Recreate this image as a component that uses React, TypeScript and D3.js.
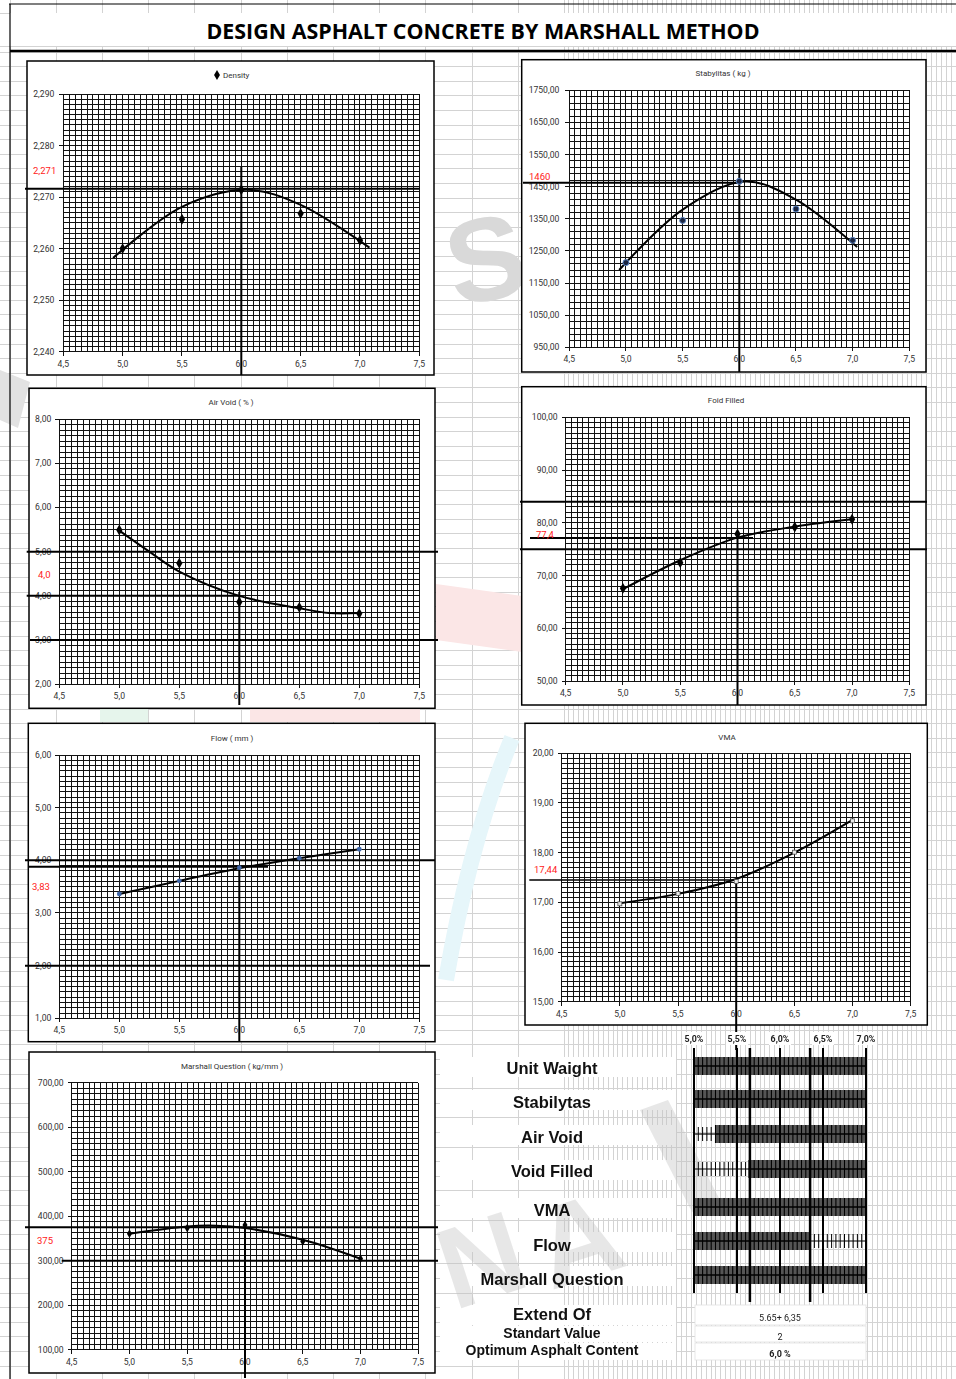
import React from "react";
import * as d3 from "d3";

// ---------------- data ----------------
const asphaltContent = [5.0, 5.5, 6.0, 6.5, 7.0];
const xTickValues = [4.5, 5.0, 5.5, 6.0, 6.5, 7.0, 7.5];
const optimumContent = 6.0;

const densityValues = [2.26, 2.2657, 2.2714, 2.2668, 2.2616];
const densityTrendX = [4.92, 5.5, 6.05, 6.5, 7.08];
const densityTrendY = [2.2582, 2.2681, 2.2714, 2.2685, 2.2602];
const densityTicks = [2.24, 2.25, 2.26, 2.27, 2.28, 2.29];
const densityRefs = [2.2716];

const stabilityValues = [1213.6, 1345.0, 1466.7, 1380.6, 1283.0];
const stabilityTrendX = [4.94, 5.5, 6.05, 6.5, 7.04];
const stabilityTrendY = [1190.7, 1378.5, 1466.0, 1409.7, 1262.3];
const stabilityTicks = [950, 1050, 1150, 1250, 1350, 1450, 1550, 1650, 1750];
const stabilityRefs = [1462];

const airVoidValues = [5.49, 4.74, 3.86, 3.74, 3.6];
const airVoidTrendX = [5.0, 5.25, 5.5, 6.0, 6.5, 6.75, 7.0];
const airVoidTrendY = [5.475, 5.0, 4.55, 4.0, 3.72, 3.61, 3.61];
const airVoidTicks = [2, 3, 4, 5, 6, 7, 8];
const airVoidRefs = [5.0, 4.0, 3.0];

const voidFilledValues = [67.57, 72.44, 77.88, 79.2, 80.66];
const voidFilledTrendX = [5.0, 5.5, 6.0, 6.5, 7.0];
const voidFilledTrendY = [67.4, 72.9, 77.18, 79.27, 80.66];
const voidFilledTicks = [50, 60, 70, 80, 90, 100];
const voidFilledRefs = [84.0, 77.1, 75.0];

const flowValues = [3.36, 3.61, 3.86, 4.04, 4.21];
const flowTrendX = [5.0, 5.5, 6.0, 6.5, 7.0];
const flowTrendY = [3.36, 3.61, 3.85, 4.04, 4.21];
const flowTicks = [1, 2, 3, 4, 5, 6];
const flowRefs = [4.0, 3.88, 2.0];

const vmaValues = [16.97, 17.18, 17.42, 18.01, 18.64];
const vmaTrendX = [5.0, 5.5, 6.0, 6.5, 7.0];
const vmaTrendY = [16.98, 17.17, 17.47, 18.0, 18.66];
const vmaTicks = [15, 16, 17, 18, 19, 20];
const vmaRefs = [17.45];

const marshallValues = [360.7, 373.4, 380.1, 343.4, 304.5];
const marshallTrendX = [5.0, 5.5, 5.75, 6.0, 6.5, 7.0];
const marshallTrendY = [360.7, 377.0, 378.6, 373.4, 347.2, 304.5];
const marshallTicks = [100, 200, 300, 400, 500, 600, 700];
const marshallRefs = [375, 300];

const specNames = ["Unit Waight", "Stabilytas", "Air Void", "Void Filled", "VMA", "Flow", "Marshall Question"];
const specFrom = [5.0, 5.0, 5.25, 5.63, 5.0, 5.0, 5.0];
const specTo = [7.0, 7.0, 7.0, 7.0, 7.0, 6.36, 7.0];
const tableTicks = [5.0, 5.5, 6.0, 6.5, 7.0];
const extentBounds = [5.65, 6.35];
const summaryLabels = ["Extend Of", "Standart Value", "Optimum Asphalt Content"];
const summaryValues = ["5.65+ 6,35", "2", "6,0 %"];

// ---------------- helpers ----------------
const comma = (v: number, d: number) => v.toFixed(d).replace(".", ",");
const chartFont = "Roboto, 'Liberation Sans', sans-serif";
const boldFont = "'Liberation Sans', Arial, sans-serif";

type Marker = "diamond" | "blueRing" | "blueDot" | "pale" | "smallDiamond";

interface PanelDef {
  title: string;
  titleX: number;
  titleY: number;
  legend?: boolean;
  frame: [number, number, number, number];
  plot: [number, number, number, number];
  yDomain: [number, number];
  yTicks: number[];
  yMinorStep: number;
  yDigits: number;
  values: number[];
  trendX: number[];
  trendY: number[];
  marker: Marker;
  refs: number[];
  refSpans: [number, number, number][];
  vTop: number;
  vBottom: number;
  refLabel: string;
  refLabelX: number;
  refLabelY: number;
  yLabelGap: number;
}

const panels: PanelDef[] = [
  {
    title: "Density", titleX: 223, titleY: 78, legend: true,
    frame: [27, 61, 407, 314], plot: [63.3, 94, 419.3, 351.7],
    yDomain: [2.24, 2.29], yTicks: densityTicks, yMinorStep: 0.001, yDigits: 3,
    values: densityValues, trendX: densityTrendX, trendY: densityTrendY, marker: "diamond",
    refs: densityRefs, refSpans: [[25, 419.3, 2]],
    vTop: 167, vBottom: 375, refLabel: "2,271", refLabelX: 33, refLabelY: 174, yLabelGap: 9,
  },
  {
    title: "Stabylitas ( kg )", titleX: 723, titleY: 76,
    frame: [521.7, 59.7, 404.3, 312.3], plot: [569.3, 90.3, 909.3, 347.3],
    yDomain: [950, 1750], yTicks: stabilityTicks, yMinorStep: 20, yDigits: 2,
    values: stabilityValues, trendX: stabilityTrendX, trendY: stabilityTrendY, marker: "blueRing",
    refs: stabilityRefs, refSpans: [[523, 741, 2]],
    vTop: 169, vBottom: 372, refLabel: "1460", refLabelX: 529, refLabelY: 180, yLabelGap: 10,
  },
  {
    title: "Air Void ( % )", titleX: 231, titleY: 405,
    frame: [29, 388.3, 406, 320], plot: [59.3, 419, 419.3, 684.3],
    yDomain: [2, 8], yTicks: airVoidTicks, yMinorStep: 0.125, yDigits: 2,
    values: airVoidValues, trendX: airVoidTrendX, trendY: airVoidTrendY, marker: "diamond",
    refs: airVoidRefs, refSpans: [[26.7, 438, 2], [26.7, 240, 2], [30, 438, 2]],
    vTop: 592, vBottom: 705, refLabel: "4,0", refLabelX: 38, refLabelY: 578, yLabelGap: 8,
  },
  {
    title: "Foid Filled", titleX: 726, titleY: 403,
    frame: [521.7, 386.7, 404.3, 318.3], plot: [565.7, 417.3, 909.3, 681],
    yDomain: [50, 100], yTicks: voidFilledTicks, yMinorStep: 1, yDigits: 2,
    values: voidFilledValues, trendX: voidFilledTrendX, trendY: voidFilledTrendY, marker: "diamond",
    refs: voidFilledRefs, refSpans: [[520, 927, 2], [530, 753, 2], [520, 927, 2]],
    vTop: 531.7, vBottom: 705, refLabel: "77,4", refLabelX: 536, refLabelY: 538, yLabelGap: 8,
  },
  {
    title: "Flow ( mm )", titleX: 232, titleY: 741,
    frame: [28.3, 723.3, 406.7, 318.4], plot: [59.3, 755, 419.3, 1018.3],
    yDomain: [1, 6], yTicks: flowTicks, yMinorStep: 0.1, yDigits: 2,
    values: flowValues, trendX: flowTrendX, trendY: flowTrendY, marker: "blueDot",
    refs: flowRefs, refSpans: [[25, 435, 2], [28, 268, 2], [25, 430, 2]],
    vTop: 866.7, vBottom: 1041.7, refLabel: "3,83", refLabelX: 32, refLabelY: 890, yLabelGap: 8,
  },
  {
    title: "VMA", titleX: 727, titleY: 740,
    frame: [525, 723.3, 402.3, 301.7], plot: [561.7, 753.3, 910.7, 1001.7],
    yDomain: [15, 20], yTicks: vmaTicks, yMinorStep: 0.1, yDigits: 2,
    values: vmaValues, trendX: vmaTrendX, trendY: vmaTrendY, marker: "pale",
    refs: vmaRefs, refSpans: [[529.3, 737, 1.5]],
    vTop: 880, vBottom: 1050, refLabel: "17,44", refLabelX: 534, refLabelY: 873, yLabelGap: 8,
  },
  {
    title: "Marshall Question ( kg/mm )", titleX: 232, titleY: 1069,
    frame: [29, 1052, 406, 321], plot: [71.7, 1082.7, 418.3, 1349.7],
    yDomain: [100, 700], yTicks: marshallTicks, yMinorStep: 12.5, yDigits: 2,
    values: marshallValues, trendX: marshallTrendX, trendY: marshallTrendY, marker: "smallDiamond",
    refs: marshallRefs, refSpans: [[25, 438, 2], [61.7, 438, 2]],
    vTop: 1221, vBottom: 1378, refLabel: "375", refLabelX: 37, refLabelY: 1244, yLabelGap: 8,
  },
];

function MarkerShape({ kind, cx, cy }: { kind: Marker; cx: number; cy: number }) {
  if (kind === "diamond") {
    const p = d3.symbol(d3.symbolDiamond, 34)() as string;
    return <path d={p} transform={`translate(${cx},${cy})`} fill="#000" />;
  }
  if (kind === "smallDiamond") {
    const p = d3.symbol(d3.symbolDiamond, 22)() as string;
    return <path d={p} transform={`translate(${cx},${cy})`} fill="#000" />;
  }
  if (kind === "blueRing")
    return <circle cx={cx} cy={cy} r={3} fill="#1a2440" stroke="#5b86c5" strokeWidth={1} />;
  if (kind === "blueDot") return <circle cx={cx} cy={cy} r={2.4} fill="#3f66a8" />;
  return <rect x={cx - 2} y={cy - 2} width={4} height={4} fill="#e8e8e8" stroke="#444" strokeWidth={0.7} />;
}

function Panel({ d }: { d: PanelDef }) {
  const [px0, py0, px1, py1] = d.plot;
  const x = d3.scaleLinear().domain([4.5, 7.5]).range([px0, px1]);
  const y = d3.scaleLinear().domain(d.yDomain).range([py1, py0]);
  const xMinor = d3.range(0, 61).map((i) => 4.5 + i * 0.05);
  const nY = Math.round((d.yDomain[1] - d.yDomain[0]) / d.yMinorStep);
  const yMinor = d3.range(0, nY + 1).map((i) => d.yDomain[0] + i * d.yMinorStep);
  const line = d3
    .line<[number, number]>()
    .x((p) => x(p[0]))
    .y((p) => y(p[1]))
    .curve(d3.curveCatmullRom.alpha(0.5));
  const trend = d.trendX.map((t, i) => [t, d.trendY[i]] as [number, number]);
  const [fx, fy, fw, fh] = d.frame;
  return (
    <g>
      <rect x={fx} y={fy} width={fw} height={fh} fill="#fff" stroke="#000" strokeWidth={1.5} />
      <g shapeRendering="crispEdges" stroke="#111" strokeWidth={1}>
        {xMinor.map((v, i) => (
          <line key={"vx" + i} x1={x(v)} x2={x(v)} y1={py0} y2={py1} />
        ))}
        {yMinor.map((v, i) => (
          <line key={"hy" + i} x1={px0} x2={px1} y1={y(v)} y2={y(v)} />
        ))}
        {d.yTicks.map((v, i) => (
          <line key={"yt" + i} x1={px0 - 4} x2={px0} y1={y(v)} y2={y(v)} />
        ))}
        {xTickValues.map((v, i) => (
          <line key={"xt" + i} x1={x(v)} x2={x(v)} y1={py1} y2={py1 + 4} />
        ))}
      </g>
      <g fontFamily={chartFont} fontSize={8.6} fill="#333">
        {d.yTicks.map((v, i) => (
          <text key={"yl" + i} x={px0 - d.yLabelGap} y={y(v) + 3} textAnchor="end">
            {comma(v, d.yDigits)}
          </text>
        ))}
        {xTickValues.map((v, i) => (
          <text key={"xl" + i} x={x(v)} y={py1 + 15} textAnchor="middle">
            {comma(v, 1)}
          </text>
        ))}
      </g>
      {d.refs.map((v, i) => (
        <line
          key={"ref" + i}
          x1={d.refSpans[i][0]}
          x2={d.refSpans[i][1]}
          y1={y(v)}
          y2={y(v)}
          stroke="#000"
          strokeWidth={d.refSpans[i][2]}
        />
      ))}
      <line x1={x(optimumContent)} x2={x(optimumContent)} y1={d.vTop} y2={d.vBottom} stroke="#000" strokeWidth={2} />
      <text x={d.refLabelX} y={d.refLabelY} fontFamily={chartFont} fontSize={9.5} fill="#ff1a1a">
        {d.refLabel}
      </text>
      <path d={line(trend) as string} fill="none" stroke="#000" strokeWidth={2} />
      {d.values.map((v, i) => (
        <MarkerShape key={"m" + i} kind={d.marker} cx={x(asphaltContent[i])} cy={y(v)} />
      ))}
      {d.legend ? (
        <g>
          <path d={d3.symbol(d3.symbolDiamond, 30)() as string} transform={`translate(${d.titleX - 6},${d.titleY - 3})`} fill="#000" />
          <text x={d.titleX} y={d.titleY} fontFamily={chartFont} fontSize={8} fill="#333">
            {d.title}
          </text>
        </g>
      ) : (
        <text x={d.titleX} y={d.titleY} textAnchor="middle" fontFamily={chartFont} fontSize={8} fill="#333">
          {d.title}
        </text>
      )}
    </g>
  );
}

function Background() {
  const cols: number[] = [];
  for (let c = 10; c < 560; c += 46.2) cols.push(c);
  for (let c = 564; c <= 956; c += 4.9) cols.push(c);
  const rows: number[] = [13, 46];
  for (let r = 52; r < 1379; r += 14.6) rows.push(r);
  return (
    <g shapeRendering="crispEdges" stroke="#d3d3d3" strokeWidth={1}>
      {cols.map((c, i) => (
        <line key={"c" + i} x1={c} x2={c} y1={0} y2={1379} />
      ))}
      {rows.map((r, i) => (
        <line key={"r" + i} x1={0} x2={956} y1={r} y2={r} />
      ))}
    </g>
  );
}

function WatermarkBack() {
  return (
    <g>
      <text x={486} y={300} textAnchor="middle" fontFamily={boldFont} fontWeight="bold" fontSize={118} fill="#d9d9d9" transform="rotate(-12 486 260)">
        S
      </text>
      <path d="M436,584 L522,596 L522,652 L436,640 Z" fill="#fbe6e6" />
      <path d="M512,738 Q470,840 446,980" fill="none" stroke="#e6f6fa" strokeWidth={16} />
      <rect x={100} y={708} width={48} height={14} fill="#e6f5ec" />
      <rect x={250} y={708} width={170} height={14} fill="#fbe6e6" />
      <path d="M0,370 L30,382 L18,428 L0,420 Z" fill="#e2e2e2" />
    </g>
  );
}

function WatermarkFront() {
  return (
    <g opacity={0.4}>
      <text x={478} y={1300} textAnchor="middle" fontFamily={boldFont} fontWeight="bold" fontSize={115} fill="#c4c4c4" transform="rotate(-18 478 1250)">
        N
      </text>
      <text x={575} y={1280} textAnchor="middle" fontFamily={boldFont} fontWeight="bold" fontSize={115} fill="#c4c4c4" transform="rotate(-18 575 1230)">
        A
      </text>
      <path d="M640,1110 L668,1100 L720,1200 L692,1212 Z" fill="#c4c4c4" />
    </g>
  );
}

function SpecBoxes() {
  const rowY = [1066, 1099, 1134, 1169, 1207, 1241, 1275];
  const sumBox: [number, number][] = [[1305, 20], [1326, 16], [1343, 17]];
  const tx = d3.scaleLinear().domain([5.0, 7.0]).range([694, 866]);
  return (
    <g>
      {specNames.map((n, i) => (
        <rect key={"lb" + i} x={440} y={rowY[i] - 9} width={236} height={20} fill="#fff" />
      ))}
      {summaryLabels.map((n, i) => (
        <g key={"sb" + i}>
          <rect x={440} y={sumBox[i][0]} width={236} height={sumBox[i][1]} fill="#fff" />
          <rect x={695} y={sumBox[i][0]} width={171} height={sumBox[i][1]} fill="#fff" stroke="#e2e2e2" strokeWidth={0.8} />
        </g>
      ))}
      {tableTicks.map((v, i) => (
        <rect key={"hb" + i} x={tx(v) - 11} y={1032} width={22} height={13} fill="#fff" />
      ))}
    </g>
  );
}

function SpecTable() {
  const tx = d3.scaleLinear().domain([5.0, 7.0]).range([694, 866]);
  const rowY = [1066, 1099, 1134, 1169, 1207, 1241, 1275];
  const labelY = [1068, 1102, 1137, 1171, 1210, 1245, 1279];
  const hatch = d3.range(0, 41).map((i) => 5.0 + i * 0.05);
  const sumY = [1315, 1334, 1351];
  return (
    <g>
      {specNames.map((n, i) => {
        const cy = rowY[i];
        return (
          <g key={"bar" + i}>
            {specFrom[i] > 5.0 && (
              <g stroke="#000">
                <line x1={tx(5.0)} x2={tx(specFrom[i])} y1={cy} y2={cy} strokeWidth={1.2} />
                {hatch
                  .filter((h) => h <= specFrom[i])
                  .map((h, k) => (
                    <line key={k} x1={tx(h)} x2={tx(h)} y1={cy - 7} y2={cy + 7} strokeWidth={1} />
                  ))}
              </g>
            )}
            <rect x={tx(specFrom[i])} y={cy - 9} width={tx(specTo[i]) - tx(specFrom[i])} height={18} fill="#555" />
            <g stroke="#000">
              {hatch
                .filter((h) => h >= specFrom[i] && h <= specTo[i])
                .map((h, k) => (
                  <line key={k} x1={tx(h)} x2={tx(h)} y1={cy - 9} y2={cy + 9} strokeWidth={1.1} />
                ))}
              <line x1={tx(specFrom[i])} x2={tx(specTo[i])} y1={cy} y2={cy} strokeWidth={1.5} />
            </g>
            {specTo[i] < 7.0 && (
              <g stroke="#000">
                <line x1={tx(specTo[i])} x2={tx(7.0)} y1={cy} y2={cy} strokeWidth={1.2} />
                {hatch
                  .filter((h) => h >= specTo[i])
                  .map((h, k) => (
                    <line key={k} x1={tx(h)} x2={tx(h)} y1={cy - 7} y2={cy + 7} strokeWidth={1} />
                  ))}
              </g>
            )}
          </g>
        );
      })}
      {tableTicks.map((v, i) => (
        <line key={"tt" + i} x1={tx(v)} x2={tx(v)} y1={1048} y2={1293} stroke="#000" strokeWidth={2} />
      ))}
      {extentBounds.map((v, i) => (
        <line key={"eb" + i} x1={tx(v)} x2={tx(v)} y1={1048} y2={1302} stroke="#000" strokeWidth={2.5} />
      ))}
      {tableTicks.map((v, i) => (
        <text key={"tl" + i} x={tx(v)} y={1042} textAnchor="middle" fontFamily={chartFont} fontWeight="bold" fontSize={8.8} fill="#222">
          {comma(v, 1) + "%"}
        </text>
      ))}
      {specNames.map((n, i) => (
        <text key={"sn" + i} x={552} y={labelY[i] + 6} textAnchor="middle" fontFamily={boldFont} fontWeight="bold" fontSize={16.5} fill="#111">
          {n}
        </text>
      ))}
      {summaryLabels.map((n, i) => (
        <text key={"sl" + i} x={552} y={[1320, 1338, 1355][i]} textAnchor="middle" fontFamily={boldFont} fontWeight="bold" fontSize={i === 0 ? 16.5 : 14} fill="#111">
          {n}
        </text>
      ))}
      {summaryValues.map((n, i) => (
        <text key={"sv" + i} x={780} y={sumY[i] + 6} textAnchor="middle" fontFamily={chartFont} fontWeight={i === 2 ? "bold" : "normal"} fontSize={9} fill="#222">
          {n}
        </text>
      ))}
    </g>
  );
}

export default function App() {
  return (
    <div style={{ position: "absolute", left: 0, top: 0, width: 956, height: 1379, overflow: "hidden", background: "#fff" }}>
      <svg width={956} height={1379} viewBox="0 0 956 1379" style={{ display: "block" }}>
        <rect x={0} y={0} width={956} height={1379} fill="#fff" />
        <Background />
        <WatermarkBack />
        <rect x={10} y={13} width={946} height={33} fill="#fff" />
        <line x1={9} x2={956} y1={4} y2={4} stroke="#000" strokeWidth={1.2} />
        <line x1={10} x2={10} y1={4} y2={1379} stroke="#000" strokeWidth={1.2} />
        <line x1={10} x2={956} y1={51} y2={51} stroke="#000" strokeWidth={2.5} />
        <text x={483} y={39} textAnchor="middle" fontFamily="'Open Sans', 'Liberation Sans', sans-serif" fontWeight="bold" fontSize={21} textLength={553} lengthAdjust="spacingAndGlyphs" fill="#000">
          DESIGN ASPHALT CONCRETE BY MARSHALL METHOD
        </text>
        {panels.map((p, i) => (
          <Panel key={i} d={p} />
        ))}
        <SpecBoxes />
        <WatermarkFront />
        <SpecTable />
      </svg>
    </div>
  );
}
